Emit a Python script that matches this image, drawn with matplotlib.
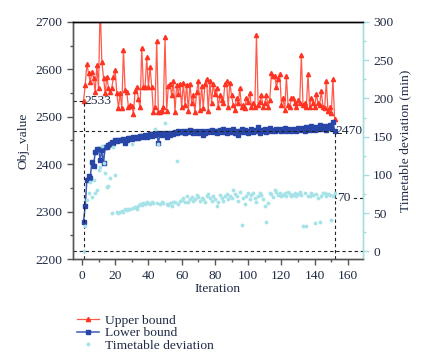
import matplotlib.pyplot as plt
from matplotlib.ticker import MultipleLocator

# values, one per iteration (1..152)
upper_bound = [
    2533, 2567, 2611, 2592, 2573, 2595, 2582, 2552, 2609, 2561, 2738, 2616, 2582, 2550, 2584, 2561, 2552, 2561, 2584, 2599,
    2550, 2518, 2550, 2518, 2641, 2557, 2552, 2520, 2525, 2522, 2506, 2555, 2562, 2538, 2520, 2645, 2562, 2563, 2625, 2562,
    2605, 2563, 2510, 2520, 2660, 2510, 2510, 2513, 2520, 2668, 2513, 2565, 2570, 2545, 2575, 2510, 2568, 2548, 2570, 2520,
    2572, 2525, 2568, 2512, 2570, 2530, 2545, 2510, 2552, 2575, 2515, 2565, 2518, 2570, 2580, 2512, 2575, 2530, 2570, 2548,
    2560, 2520, 2545, 2535, 2528, 2570, 2575, 2520, 2572, 2545, 2525, 2515, 2540, 2530, 2560, 2520, 2525, 2518, 2540, 2532,
    2550, 2520, 2528, 2520, 2672, 2525, 2532, 2545, 2520, 2530, 2545, 2520, 2535, 2592, 2585, 2585, 2562, 2580, 2590, 2525,
    2540, 2515, 2585, 2525, 2520, 2540, 2540, 2530, 2520, 2535, 2530, 2630, 2525, 2528, 2520, 2590, 2520, 2540, 2530, 2520,
    2548, 2530, 2525, 2555, 2520, 2518, 2575, 2512, 2520, 2508, 2580, 2495,
]
lower_bound = [
    2279, 2312, 2367, 2376, 2371, 2405, 2396, 2425, 2432, 2433, 2409, 2430, 2402, 2437, 2436, 2440, 2443, 2447, 2445, 2450,
    2449, 2451, 2452, 2450, 2453, 2445, 2452, 2455, 2456, 2454, 2457, 2456, 2458, 2455, 2459, 2460, 2458, 2462, 2457, 2461,
    2463, 2460, 2464, 2462, 2466, 2445, 2463, 2461, 2465, 2464, 2458, 2466, 2462, 2465, 2463, 2467, 2466, 2470, 2468, 2467,
    2470, 2466, 2469, 2468, 2472, 2470, 2465, 2468, 2471, 2466, 2468, 2470, 2462, 2466, 2469, 2467, 2470, 2472, 2468, 2471,
    2466, 2470, 2473, 2468, 2475, 2470, 2465, 2472, 2468, 2470, 2474, 2466, 2469, 2462, 2470, 2475, 2468, 2472, 2470, 2466,
    2470, 2474, 2468, 2472, 2470, 2478, 2466, 2472, 2470, 2474, 2468, 2472, 2476, 2471, 2473, 2470, 2475, 2472, 2474, 2470,
    2472, 2476, 2470, 2474, 2472, 2470, 2475, 2473, 2471, 2477, 2474, 2472, 2476, 2470, 2478, 2474, 2472, 2480, 2476, 2473,
    2478, 2475, 2482, 2474, 2476, 2480, 2473, 2478, 2483, 2476, 2490, 2470,
]
deviation = [
    0, 33, 67, 76, 91, 71, 94, 76, 80, 107, 110, 138, 116, 102, 84, 86, 96, 50, 136, 100,
    51, 50, 52, 53, 52, 55, 54, 56, 55, 141, 57, 58, 56, 60, 62, 61, 63, 62, 64, 63,
    62, 64, 63, 160, 63, 141, 62, 64, 63, 168, 62, 61, 63, 60, 65, 64, 118, 62, 66, 67,
    70, 65, 72, 64, 68, 71, 66, 69, 74, 71, 66, 70, 68, 64, 72, 75, 70, 66, 73, 68,
    60, 64, 74, 70, 66, 72, 75, 68, 73, 70, 80, 75, 72, 66, 78, 34, 70, 62, 72, 76,
    68, 74, 77, 70, 65, 72, 76, 74, 69, 60, 38, 63, 77, 75, 71, 80, 78, 74, 76, 72,
    74, 77, 72, 78, 75, 73, 74, 76, 72, 75, 78, 74, 33, 76, 33, 72, 72, 76, 74, 37,
    75, 70, 38, 73, 76, 77, 72, 75, 74, 41, 73, 76,
]
iterations = list(range(1, len(upper_bound) + 1))

txt = '#1f2a44'
fs = 9.7
plt.rcParams['font.family'] = ['Liberation Serif', 'DejaVu Serif']
plt.rcParams['font.size'] = fs

fig = plt.figure(figsize=(4.32, 3.53), dpi=100)
ax = fig.add_axes([0.168, 0.266, 0.672, 0.672])
ax2 = ax.twinx()

l1, = ax.plot(iterations, upper_bound, color='#ff5a4a', lw=0.9, marker='^', ms=3,
              mfc='#ff3322', mec='#ff3322', label='Upper bound')
l2, = ax.plot(iterations, lower_bound, color='#3a5bb8', lw=1.1, marker='s', ms=2.2,
              mfc='#2845a8', mec='#2845a8', label='Lower bound')
l3, = ax2.plot(iterations, deviation, ls='none', marker='o', ms=2.8,
               color='#a6e3e9', mec='none', label='Timetable deviation')

xmin, xmax = -5.6, 169
ax.set_xlim(xmin, xmax)
ax.set_ylim(2200, 2700)
ax2.set_ylim(-10, 300)

# reference lines and labels
x0, xl = iterations[0], iterations[-1]
dash = dict(color='#222222', lw=0.8, ls=(0, (3, 2.5)))
ax.plot([xmin, x0], [upper_bound[0]] * 2, **dash)
ax.plot([x0, x0], [2200, upper_bound[0]], **dash)
ax.plot([xmin, xl], [lower_bound[-1]] * 2, **dash)
ax.plot([xl, xl], [2200, lower_bound[-1]], **dash)
ax2.plot([xmin, xmax], [0, 0], **dash)
ax2.plot([xl, xmax], [70, 70], **dash)
ax.text(x0 + 0.6, upper_bound[0], '2533', color=txt, va='center', ha='left', fontsize=fs)
ax.text(xl + 0.6, lower_bound[-1], '2470', color=txt, va='center', ha='left', fontsize=fs)
ax2.text(xl + 1.5, 70, '70', color=txt, va='center', ha='left', fontsize=fs,
         bbox=dict(fc='white', ec='none', pad=0.3))

ax.xaxis.set_major_locator(MultipleLocator(20))
ax.xaxis.set_minor_locator(MultipleLocator(10))
ax.yaxis.set_major_locator(MultipleLocator(100))
ax.yaxis.set_minor_locator(MultipleLocator(50))
ax2.yaxis.set_major_locator(MultipleLocator(50))
ax2.yaxis.set_minor_locator(MultipleLocator(25))

for a in (ax, ax2):
    for s in a.spines.values():
        s.set_linewidth(1.0)
    a.spines['top'].set_color('black')
    a.spines['left'].set_color('#555555')
    a.spines['bottom'].set_color('#555555')
    a.spines['right'].set_color('#a6dde2')

ax.tick_params(axis='both', which='major', length=4, width=1, colors='#555555', labelcolor=txt, labelsize=fs)
ax.tick_params(axis='both', which='minor', length=2.5, width=1, colors='#555555')
ax2.tick_params(axis='y', which='major', length=4, width=1, colors='#a6dde2', labelcolor=txt, labelsize=fs)
ax2.tick_params(axis='y', which='minor', length=2.5, width=1, colors='#a6dde2')

ax.set_xlabel('Iteration', color=txt, fontsize=fs, labelpad=1)
ax.set_ylabel('Obj_value', color=txt, fontsize=fs, labelpad=4)
ax2.set_ylabel('Timetable deviation (min)', color=txt, fontsize=fs, labelpad=4)

fig.legend(handles=[l1, l2, l3], loc='upper left', bbox_to_anchor=(0.163, 0.128),
           frameon=False, fontsize=fs, labelspacing=0.0, handlelength=1.6,
           handletextpad=0.5, borderpad=0, labelcolor=txt)

fig.savefig('out.png', dpi=100)
